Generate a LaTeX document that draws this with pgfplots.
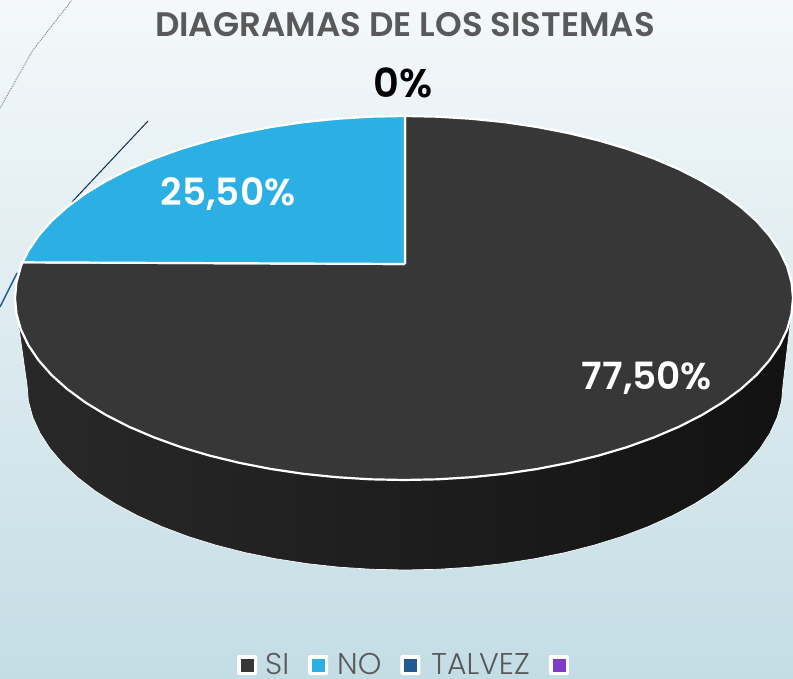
\documentclass[border=0pt]{standalone}
\usepackage{fontspec}
\setmainfont{Poppins}[BoldFont={Poppins SemiBold}]
\newfontfamily\lightfont{Poppins Light}
\usepackage{pgfplots}
\pgfplotsset{compat=1.18}
\definecolor{cSI}{HTML}{373737}
\definecolor{cNO}{HTML}{2CAFE3}
\definecolor{cTV}{HTML}{235A92}
\definecolor{cBL}{HTML}{7F3CC9}
\definecolor{cTitle}{HTML}{595959}
\pgfplotsset{legkey/.style 2 args={legend image code/.code={\path[draw=none](0pt,0pt) rectangle (#2,0pt);\fill[draw=none,white,rounded corners=2pt](0pt,-10pt) rectangle (20pt,10pt);\fill[draw=none,#1](4pt,-6.5pt) rectangle (17pt,6.5pt);}}}
\begin{document}
\begin{tikzpicture}
\begin{axis}[
  scale only axis, width=793pt, height=679pt,
  xmin=0, xmax=793, ymin=0, ymax=679, y dir=reverse,
  hide axis, clip=true,
  legend style={at={(axis cs:405,665)}, anchor=center, draw=none, fill=none,
    legend columns=4, font=\fontsize{30}{30}\selectfont\lightfont\color{cTitle},
    inner sep=0pt,
    /tikz/every even column/.append style={column sep=17pt}},
]
% background
\addplot[draw=none, forget plot, top color={rgb,255:red,244;green,248;blue,250}, bottom color={rgb,255:red,196;green,221;blue,229}]
  coordinates {(0,0)(793,0)(793,679)(0,679)};
% stray lines
\addplot[forget plot, color=black!45!cyan!30!gray, line width=1pt, densely dotted] coordinates {(0,108)(33,50)(72,0)};
\addplot[forget plot, color=cTV!50!black, line width=1pt] coordinates {(72,202)(148,121)};
\addplot[forget plot, color=cTV, line width=1.5pt] coordinates {(0,307)(17,273)};
% side of the disc
\addplot[draw=white, line width=0.7pt, forget plot, left color=black!84, right color=black!93] coordinates {
(793,300)(783,385)(781.6,401.1)(777.3,417.1)(770.1,432.9)(760.2,448.3)(747.6,463.2)(732.3,477.5)(714.7,491.1)(694.5,503.9)(672.3,515.8)(648,526.7)(621.8,536.6)(594,545.2)(564.7,552.7)(534.3,558.8)(502.8,563.7)(470.6,567.2)(438,569.3)(405,570)
(372,569.3)(339.4,567.2)(307.2,563.7)(275.7,558.8)(245.3,552.7)(216,545.2)(188.2,536.6)(162,526.7)(137.7,515.8)(115.5,503.9)(95.3,491.1)(77.7,477.5)(62.4,463.2)(49.8,448.3)(39.9,432.9)(32.7,417.1)(28.4,401.1)(27,385)(15,300)
};
% SI slice, 77.5
\addplot[forget plot, draw=white, line width=2.2pt, fill=cSI, line join=round] coordinates {
(405,264)(405,116)(437.9,116.7)(471.5,118.8)(504.7,122.2)(537,127)(568.4,133.1)(598.5,140.4)(627.1,148.9)(654,158.6)(679.1,169.3)(702,181)(722.7,193.6)(740.9,207)(756.6,221.1)(769.5,235.8)(779.7,250.9)(787.1,266.4)(791.5,282.1)(793,298)
(791.5,313.9)(787.1,329.6)(779.7,345.1)(769.5,360.2)(756.6,374.9)(740.9,389)(722.7,402.4)(702,415)(679.1,426.7)(654,437.4)(627.1,447.1)(598.5,455.6)(568.4,462.9)(537,469)(504.7,473.8)(471.5,477.2)(437.9,479.3)(404,480)
(370.1,479.3)(336.5,477.2)(303.3,473.8)(271,469)(239.6,462.9)(209.5,455.6)(180.9,447.1)(154,437.4)(128.9,426.7)(106,415)(85.3,402.4)(67.1,389)(51.4,374.9)(38.5,360.2)(28.3,345.1)(20.9,329.6)(16.5,313.9)(15,298)(16.5,282.1)(20.9,266.4)(22.5,262.3)(405,264)
};
% NO slice, 25.5
\addplot[forget plot, draw=white, line width=2.2pt, fill=cNO, line join=round] coordinates {
(405,264)(405,116)(370.1,116.7)(336.5,118.8)(303.3,122.2)(271,127)(239.6,133.1)(209.5,140.4)(180.9,148.9)(154,158.6)(128.9,169.3)(106,181)(85.3,193.6)(67.1,207)(51.4,221.1)(38.5,235.8)(28.3,250.9)(22.5,262.3)(405,264)
};
% legend
\addlegendimage{legkey={cSI}{26pt}}
\addlegendentry{SI}
\addlegendimage{legkey={cNO}{27pt}}
\addlegendentry{NO}
\addlegendimage{legkey={cTV}{29pt}}
\addlegendentry{TALVEZ}
\addlegendimage{legkey={cBL}{20pt}}
\addlegendentry{}
% texts
\node[font=\fontsize{34}{34}\selectfont\bfseries, text=cTitle] at (axis cs:405,25) {DIAGRAMAS DE LOS SISTEMAS};
\node[font=\fontsize{40}{40}\selectfont\bfseries, text=black] at (axis cs:403,83) {0\%};
\node[font=\fontsize{37.5}{38}\selectfont\bfseries, text=white] at (axis cs:228,194) {25,50\%};
\node[font=\fontsize{37.5}{38}\selectfont\bfseries, text=white] at (axis cs:647,378) {77,50\%};
\end{axis}
\end{tikzpicture}
\end{document}
